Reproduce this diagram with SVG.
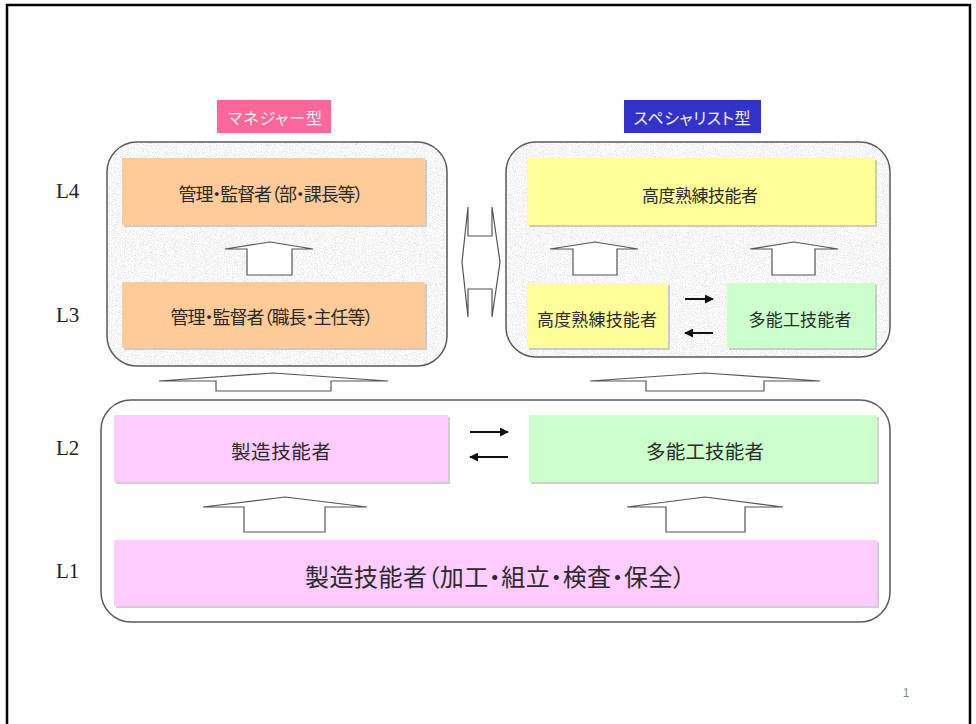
<svg xmlns="http://www.w3.org/2000/svg" width="976" height="724" viewBox="0 0 976 724">
<defs>
<style>
.jp{font-family:"Noto Sans CJK JP","Noto Sans",sans-serif;font-feature-settings:"palt";fill:#2a2a2a;text-anchor:middle;dominant-baseline:central}
.lbl{font-family:"Noto Sans CJK JP","Noto Sans",sans-serif;font-feature-settings:"palt";fill:#f4f4f4;text-anchor:middle;dominant-baseline:central;font-size:16px}
.lv{font-family:"Liberation Serif",serif;font-size:21px;fill:#222}
.sh{fill:#a8a8a8;opacity:.55}
.cont{fill:none;stroke:#5a5a5a;stroke-width:1.5}
.blk{fill:#fff;stroke:#555;stroke-width:1.2}
.con{stroke:#111;stroke-width:2;fill:none}
</style>
<filter id="granite" x="0" y="0" width="1" height="1">
<feTurbulence type="fractalNoise" baseFrequency="1.1" numOctaves="3" seed="7" result="n"/>
<feColorMatrix in="n" type="matrix" values="0.33 0.33 0.33 0 0 0.33 0.33 0.33 0 0 0.33 0.33 0.33 0 0 0 0 0 0 1" result="g"/>
<feComponentTransfer in="g" result="c">
<feFuncR type="linear" slope="1.1" intercept="0.39"/>
<feFuncG type="linear" slope="1.1" intercept="0.39"/>
<feFuncB type="linear" slope="1.1" intercept="0.39"/>
</feComponentTransfer>
<feComposite in="c" in2="SourceGraphic" operator="in"/>
</filter>
<marker id="ah" viewBox="0 0 10 10" refX="9" refY="5" markerWidth="4.5" markerHeight="4.5" orient="auto-start-reverse">
<path d="M0,0 L10,5 L0,10 Z" fill="#111"/>
</marker>
</defs>

<rect width="976" height="724" fill="#fff"/>
<path d="M7,724 L7,5 L970,5 L970,724" fill="none" stroke="#000" stroke-width="2.5"/>

<g id="levels">
<text class="lv" x="56" y="198">L4</text>
<text class="lv" x="56" y="322">L3</text>
<text class="lv" x="56" y="455">L2</text>
<text class="lv" x="56" y="578">L1</text>
</g>

<g id="label-manager">
<rect x="217" y="100" width="114" height="33" fill="#ff6699"/>
<text class="lbl" x="275" y="117" textLength="94">マネジャー型</text>
</g>
<g id="label-specialist">
<rect x="624" y="100" width="137" height="33" fill="#3333cc"/>
<text class="lbl" x="692" y="117" textLength="117">スペシャリスト型</text>
</g>

<g id="container-manager">
<rect x="107" y="142" width="340" height="224" rx="30" fill="#ccc" filter="url(#granite)"/>
<rect x="107" y="142" width="340" height="224" rx="30" class="cont"/>
</g>
<g id="container-specialist">
<rect x="506" y="142" width="384" height="215" rx="30" fill="#ccc" filter="url(#granite)"/>
<rect x="506" y="142" width="384" height="215" rx="30" class="cont"/>
</g>
<g id="container-base">
<rect x="101" y="400" width="789" height="222" rx="30" fill="#fff" stroke="#5a5a5a" stroke-width="1.5"/>
</g>

<g id="mgr-l4">
<rect class="sh" x="124" y="160" width="303" height="67"/>
<rect x="122" y="158" width="303" height="67" fill="#ffcc99"/>
<text class="jp" x="271" y="193" font-size="18" textLength="185">管理・監督者（部・課長等）</text>
</g>
<g id="mgr-l3">
<rect class="sh" x="124" y="284" width="303" height="66"/>
<rect x="122" y="282" width="303" height="66" fill="#ffcc99"/>
<text class="jp" x="272" y="316" font-size="18" textLength="203">管理・監督者（職長・主任等）</text>
</g>
<g id="spc-l4">
<rect class="sh" x="529" y="160" width="348" height="67"/>
<rect x="527" y="158" width="348" height="67" fill="#ffff99"/>
<text class="jp" x="700" y="194" font-size="17" textLength="116">高度熟練技能者</text>
</g>
<g id="spc-l3-expert">
<rect class="sh" x="529" y="285" width="141" height="65"/>
<rect x="527" y="283" width="141" height="65" fill="#ffff99"/>
<text class="jp" x="597" y="318" font-size="17" textLength="120">高度熟練技能者</text>
</g>
<g id="spc-l3-multi">
<rect class="sh" x="729" y="285" width="148" height="65"/>
<rect x="727" y="283" width="148" height="65" fill="#ccffcc"/>
<text class="jp" x="800" y="318" font-size="17" textLength="103">多能工技能者</text>
</g>
<g id="l2-maker">
<rect class="sh" x="116" y="417" width="334" height="67"/>
<rect x="114" y="415" width="334" height="67" fill="#ffccff"/>
<text class="jp" x="281" y="450" font-size="19.5" textLength="100">製造技能者</text>
</g>
<g id="l2-multi">
<rect class="sh" x="531" y="417" width="348" height="67"/>
<rect x="529" y="415" width="348" height="67" fill="#ccffcc"/>
<text class="jp" x="705" y="450" font-size="19.5" textLength="118">多能工技能者</text>
</g>
<g id="l1-maker">
<rect class="sh" x="116" y="542" width="763" height="66"/>
<rect x="114" y="540" width="763" height="66" fill="#ffccff"/>
<text class="jp" x="495" y="575" font-size="24" textLength="380">製造技能者（加工・組立・検査・保全）</text>
</g>

<g id="connectors">
<path class="blk" d="M225,249 L270,242 L313,249 L292,249 L292,275 L247,275 L247,249 Z"/>
<path class="blk" d="M550,249 L595,242 L638,249 L617,249 L617,275 L573,275 L573,249 Z"/>
<path class="blk" d="M750,249 L794,242 L838,249 L815,249 L815,275 L772,275 L772,249 Z"/>
<path class="blk" d="M468,207 L468,236 L492,236 L492,207 L500,262 L492,317 L492,289 L468,289 L468,317 L462,262 Z"/>
<path class="blk" d="M159,381 L273,373 L388,381 L331,381 L331,391 L216,391 L216,381 Z"/>
<path class="blk" d="M590,381 L705,373 L820,381 L764,381 L764,391 L646,391 L646,381 Z"/>
<path class="blk" d="M203,507 L285,497 L367,507 L325,507 L325,532 L244,532 L244,507 Z"/>
<path class="blk" d="M627,507 L705,497 L783,507 L745,507 L745,532 L666,532 L666,507 Z"/>
<line class="con" x1="685" y1="299" x2="713" y2="299" marker-end="url(#ah)"/>
<line class="con" x1="713" y1="333" x2="685" y2="333" marker-end="url(#ah)"/>
<line class="con" x1="470" y1="432" x2="508" y2="432" marker-end="url(#ah)"/>
<line class="con" x1="508" y1="457" x2="470" y2="457" marker-end="url(#ah)"/>
</g>

<text x="906" y="697" font-family="Liberation Sans, sans-serif" font-size="12" fill="#888" text-anchor="middle">1</text>
</svg>
